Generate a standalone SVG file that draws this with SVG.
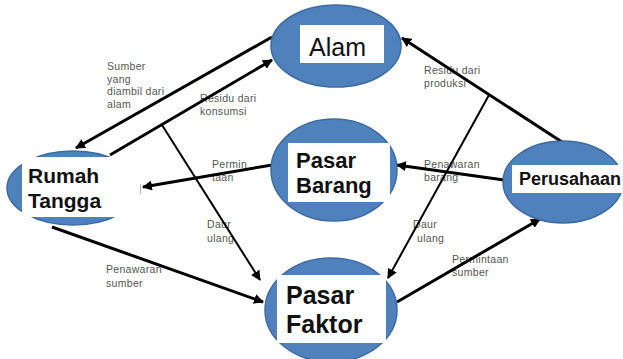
<svg xmlns="http://www.w3.org/2000/svg" width="623" height="359" viewBox="0 0 623 359">
<style>
.ell{fill:#4f81bd;stroke:#3d6aa1;stroke-width:1.5}
.box{fill:#fff}
.nt{font-family:"Liberation Sans",Arial,sans-serif;font-weight:bold;fill:#111}
.lb{font-family:"Liberation Sans",Arial,sans-serif;font-size:10.5px;letter-spacing:0.3px;fill:#555}
.c{stroke:#000;stroke-width:3;fill:none;marker-end:url(#ah)}
.ct{stroke:#000;stroke-width:2;fill:none;marker-end:url(#ah)}
</style>
<defs>
<marker id="ah" viewBox="0 0 10 10" refX="9" refY="5" markerWidth="10" markerHeight="10" markerUnits="userSpaceOnUse" orient="auto">
<path d="M0,0 L10,5 L0,10 z" fill="#000"/>
</marker>
</defs>
<rect width="623" height="359" fill="#fff"/>
<g id="labels">
<text class="lb" x="107" y="70">Sumber</text>
<text class="lb" x="107" y="83">yang</text>
<text class="lb" x="107" y="95">diambil dari</text>
<text class="lb" x="107" y="108">alam</text>
<text class="lb" x="200" y="102">Residu dari</text>
<text class="lb" x="200" y="115">konsumsi</text>
<text class="lb" x="424" y="74">Residu dari</text>
<text class="lb" x="424" y="87">produksi</text>
<text class="lb" x="212" y="168">Permin</text>
<text class="lb" x="212" y="181">taan</text>
<text class="lb" x="424" y="168">Penawaran</text>
<text class="lb" x="424" y="181">barang</text>
<text class="lb" x="207" y="228">Daur</text>
<text class="lb" x="207" y="242">ulang</text>
<text class="lb" x="413" y="228">Daur</text>
<text class="lb" x="417" y="242">ulang</text>
<text class="lb" x="106" y="273">Penawaran</text>
<text class="lb" x="106" y="287">sumber</text>
<text class="lb" x="452" y="263">Permintaan</text>
<text class="lb" x="452" y="276">sumber</text>
</g>
<g id="connectors">
<path class="c" d="M272,37 L76,148"/>
<path class="c" d="M110,155 L272,60"/>
<path class="ct" d="M162,125 L260,280"/>
<path class="c" d="M272,165 L143,187"/>
<line x1="140" y1="184" x2="140" y2="194" stroke="#666" stroke-width="1"/>
<path class="c" d="M504,180 L397,165"/>
<path class="c" d="M562,142 L402,38"/>
<path class="ct" d="M489,95 L388,278"/>
<path class="c" d="M52,227 L263,302"/>
<path class="c" d="M397,302 L540,219"/>
</g>
<g id="alam">
<ellipse class="ell" cx="336" cy="46" rx="65" ry="41"/>
<rect class="box" x="300" y="25" width="84" height="38"/>
<text x="309" y="56" font-family="'Liberation Sans',Arial,sans-serif" font-size="25" fill="#111">Alam</text>
</g>
<g id="pasar-barang">
<ellipse class="ell" cx="334" cy="170" rx="63" ry="51"/>
<rect class="box" x="288" y="143" width="102" height="59"/>
<text class="nt" x="296" y="168" font-size="22">Pasar</text>
<text class="nt" x="296" y="193" font-size="22">Barang</text>
</g>
<g id="rumah-tangga">
<ellipse class="ell" cx="73" cy="188" rx="66" ry="37"/>
<rect class="box" x="22" y="157" width="118" height="60"/>
<text class="nt" x="28" y="183" font-size="21">Rumah</text>
<text class="nt" x="28" y="208" font-size="21">Tangga</text>
</g>
<g id="perusahaan">
<ellipse class="ell" cx="563" cy="182" rx="60" ry="41"/>
<rect class="box" x="512" y="165" width="111" height="28"/>
<text class="nt" x="519" y="185" font-size="18">Perusahaan</text>
</g>
<g id="pasar-faktor">
<ellipse class="ell" cx="331" cy="310" rx="66" ry="52"/>
<rect class="box" x="277" y="275" width="109" height="68"/>
<text class="nt" x="286" y="304" font-size="25">Pasar</text>
<text class="nt" x="286" y="333" font-size="25">Faktor</text>
</g>
</svg>
